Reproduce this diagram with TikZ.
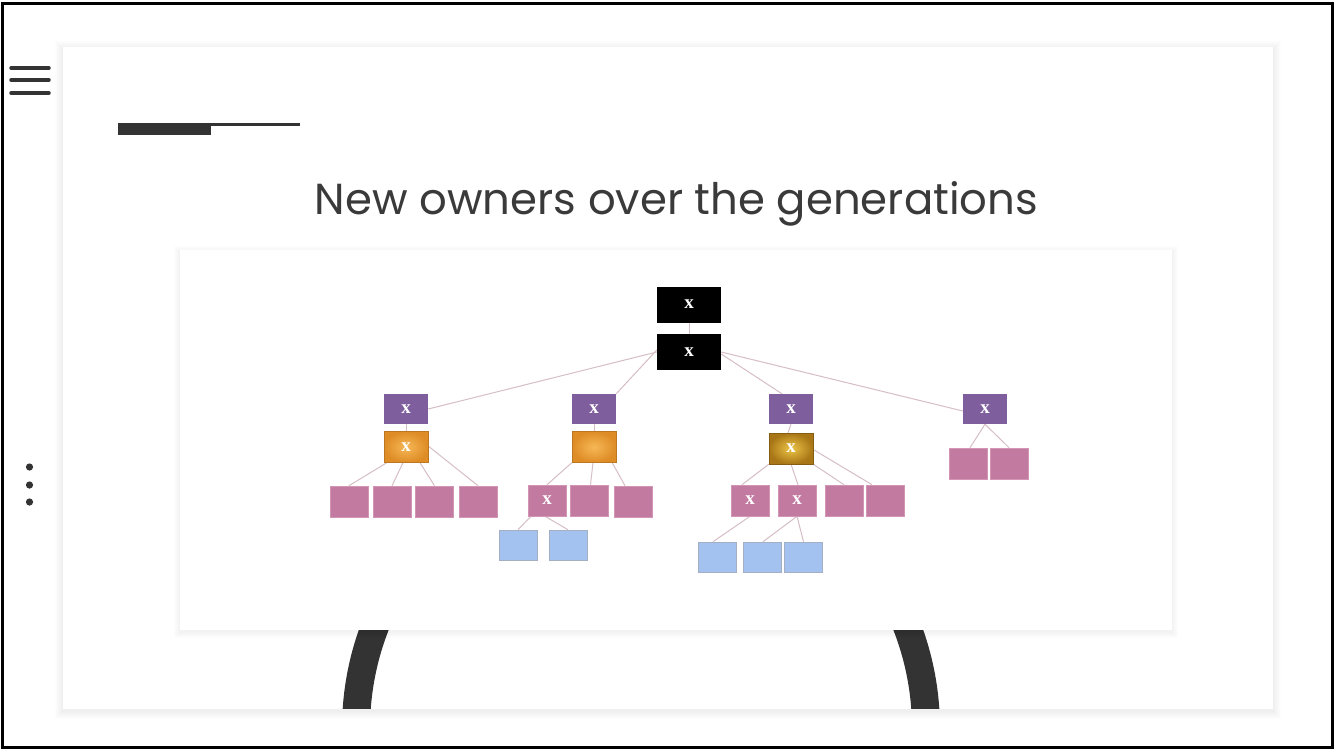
\documentclass[tikz,border=0pt]{standalone}
\usepackage{fontspec}
\newfontfamily\titlefont{Poppins}
\newfontfamily\xfont{Liberation Serif}
\definecolor{dark}{RGB}{51,51,51}
\definecolor{titlec}{RGB}{58,58,58}
\definecolor{purp}{RGB}{127,94,158}
\definecolor{pinkb}{RGB}{194,122,160}
\definecolor{pinkedge}{RGB}{210,150,180}
\definecolor{blueb}{RGB}{164,194,240}
\definecolor{blueedge}{RGB}{165,175,195}
\definecolor{conn}{RGB}{214,190,196}
\definecolor{orin}{RGB}{246,184,86}
\definecolor{orout}{RGB}{222,140,38}
\definecolor{goin}{RGB}{236,196,70}
\definecolor{goout}{RGB}{168,118,22}
\tikzset{
  bx/.style={minimum width=44pt, minimum height=30pt, inner sep=0pt, text=white,
    font=\xfont\bfseries\fontsize{19}{19}\selectfont},
  blk/.style={bx, fill=black, minimum width=64pt, minimum height=36pt},
  pur/.style={bx, fill=purp},
  orb/.style={bx, draw=orout!85!black, line width=0.4pt, inner color=orin, outer color=orout, minimum height=31pt},
  gob/.style={bx, draw=goout!80!black, line width=0.4pt, inner color=goin, outer color=goout, minimum height=31pt},
  pnk/.style={bx, fill=pinkb, draw=pinkedge, line width=0.6pt, minimum width=38pt, minimum height=31pt},
  blu/.style={bx, fill=blueb, draw=blueedge, line width=0.6pt, minimum width=38pt, minimum height=30pt},
  cn/.style={draw=conn, line width=1pt},
  softshadow/.style={fill=black, fill opacity=0.007, draw=none}
}
\begin{document}
\begin{tikzpicture}[x=1pt,y=-1pt]
\useasboundingbox (0,0) rectangle (1335,750);
\fill[white] (0,0) rectangle (1335,750);
% card shadow
\foreach \i in {1,...,8}{
  \fill[softshadow] (63-\i,47-\i+2) rectangle (1273+\i,709+\i+2);
}
\fill[white] (63,47) rectangle (1273,709);
% ring behind picture, clipped to card
\begin{scope}
  \clip (63,47) rectangle (1273,708);
  \draw[dark, line width=28pt] (641,729) circle[radius=285];
\end{scope}
% picture box shadow
\foreach \i in {1,...,6}{
  \fill[softshadow] (180-\i,250-\i+2) rectangle (1172+\i,630+\i+2);
}
\fill[white] (180,250) rectangle (1172,630);
% outer frame
\draw[black, line width=2.5pt] (2.5,3.5) rectangle (1332.5,747.5);
% hamburger
\foreach \yy in {68,80,93}{
  \draw[dark, line width=3.5pt, line cap=round] (11,\yy) -- (49,\yy);
}
% dots
\foreach \yy in {467,485,502}{
  \fill[dark] (29.5,\yy) circle[radius=3.6];
}
% title decoration
\fill[dark] (118,123) rectangle (211,135);
\draw[dark, line width=2.5pt] (211,124.3) -- (300,124.3);
% title
\node[anchor=base, text=titlec, font=\titlefont\fontsize{43.4}{44}\selectfont] (title) at (676.5,214) {New owners over the generations};
% connector layer is drawn first via coordinates of nodes declared below
\node[blk] (k1) at (689,304.5) {};
\node[blk] (k2) at (689,352) {};
\node[pur] (A) at (406,409) {};
\node[pur] (B) at (594,409) {};
\node[pur] (C) at (791,409) {};
\node[pur] (D) at (985,409) {};
\node[orb] (A2) at (406,447) {};
\node[orb] (B2) at (594,447) {};
\node[gob] (C2) at (791,448.5) {};
\node[pnk] (a1) at (349,501.5) {};
\node[pnk] (a2) at (392,501.5) {};
\node[pnk] (a3) at (434.5,501.5) {};
\node[pnk] (a4) at (478,501.5) {};
\node[pnk] (b1) at (547,500.5) {};
\node[pnk] (b2) at (589.5,500.5) {};
\node[pnk] (b3) at (633,501.5) {};
\node[pnk] (c1) at (750,500.5) {};
\node[pnk] (c2) at (797,500.5) {};
\node[pnk] (c3) at (844,500.5) {};
\node[pnk] (c4) at (885,500.5) {};
\node[pnk] (d1) at (968,463.5) {};
\node[pnk] (d2) at (1009,463.5) {};
\node[blu] (bb1) at (518,545) {};
\node[blu] (bb2) at (568,545) {};
\node[blu] (cb1) at (717,557) {};
\node[blu] (cb2) at (762,557) {};
\node[blu] (cb3) at (803.5,557) {};
% connectors
\draw[cn] (k1.south) -- (k2.north);
\draw[cn] (k2.west) -- (A.east);
\draw[cn] ([yshift=2pt]k2.west) -- (B.north east);
\draw[cn] ([yshift=-2pt]k2.east) -- ([xshift=-9pt]C.north);
\draw[cn] (k2.east) -- ([yshift=-2pt]D.west);
\draw[cn] (A.south) -- (A2.north);
\draw[cn] (B.south) -- (B2.north);
\draw[cn] (C.south) -- ([xshift=-3pt]C2.north);
\draw[cn] ([xshift=3pt]A2.south west) -- (a1.north);
\draw[cn] ([xshift=-3pt]A2.south) -- (a2.north);
\draw[cn] ([xshift=14pt]A2.south) -- (a3.north);
\draw[cn] ([yshift=1pt]A2.east) -- (a4.north);
\draw[cn] (B2.south west) -- (b1.north);
\draw[cn] ([xshift=-1pt]B2.south) -- ([xshift=1pt]b2.north);
\draw[cn] ([xshift=-4pt]B2.south east) -- ([xshift=-8pt]b3.north);
\draw[cn] ([xshift=-16pt]b1.south) -- (bb1.north);
\draw[cn] ([xshift=-2pt]b1.south) -- (bb2.north);
\draw[cn] (C2.south west) -- ([xshift=-8pt]c1.north);
\draw[cn] (C2.south) -- ([xshift=1pt]c2.north);
\draw[cn] (C2.south east) -- (c3.north);
\draw[cn] ([yshift=-1pt]C2.east) -- ([xshift=-13pt]c4.north);
\draw[cn] (c1.south) -- ([xshift=-4pt]cb1.north);
\draw[cn] (c2.south) -- ([xshift=1pt]cb2.north);
\draw[cn] (c2.south) -- (cb3.north);
\draw[cn] (D.south) -- ([xshift=2pt]d1.north);
\draw[cn] (D.south) -- (d2.north);
% boxes drawn on top of connectors, with their labels
\node[blk] at (k1) {x};
\node[blk] at (k2) {x};
\node[pur] at (A) {x};
\node[pur] at (B) {x};
\node[pur] at (C) {x};
\node[pur] at (D) {x};
\node[orb] at (A2) {x};
\node[orb] at (B2) {};
\node[gob] at (C2) {x};
\node[pnk] at (b1) {x};
\node[pnk] at (c1) {x};
\node[pnk] at (c2) {x};
\foreach \n in {a1,a2,a3,a4,b2,b3,c3,c4,d1,d2}{ \node[pnk] at (\n) {}; }
\foreach \n in {bb1,bb2,cb1,cb2,cb3}{ \node[blu] at (\n) {}; }
\end{tikzpicture}
\end{document}
